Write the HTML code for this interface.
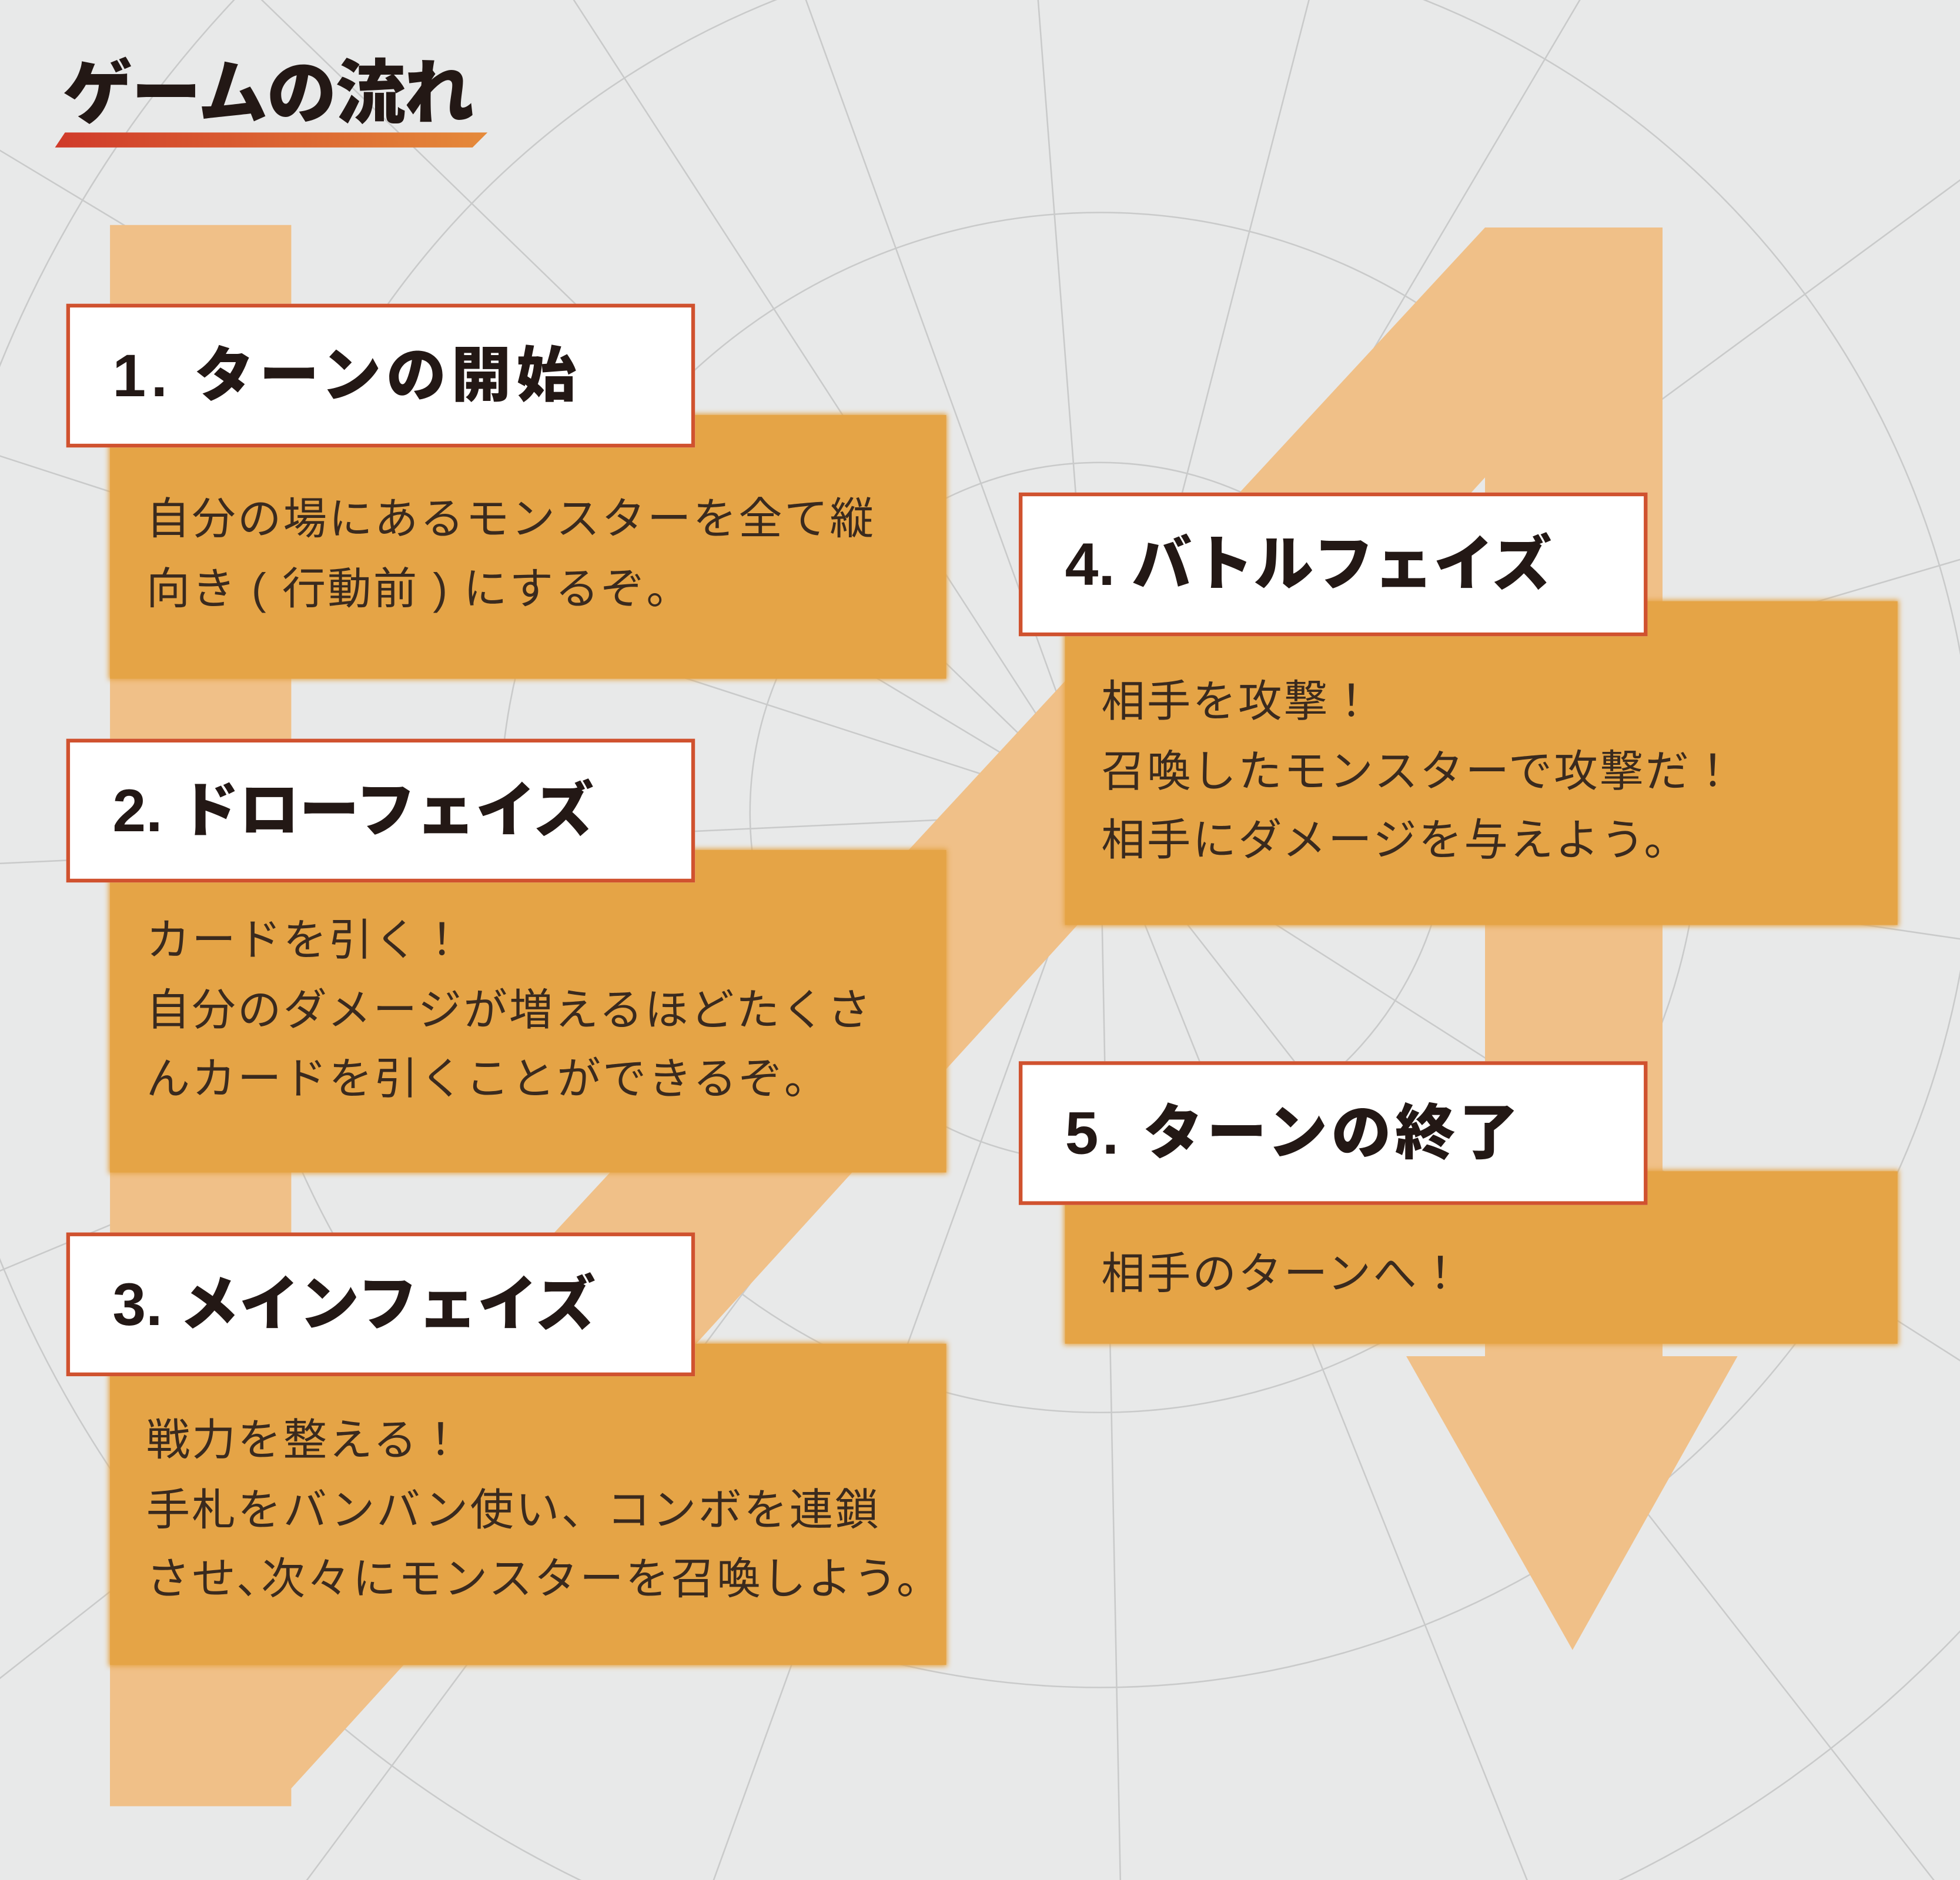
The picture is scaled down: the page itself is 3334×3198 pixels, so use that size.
<!DOCTYPE html>
<html><head><meta charset="utf-8"><style>
html,body{margin:0;padding:0;overflow:hidden;width:3334px;height:3198px;}
body{background:#e8e9e9;position:relative;}
#w{position:absolute;left:0;top:0;width:1568px;height:1504px;overflow:hidden;transform:scale(2.1263);transform-origin:0 0;font-family:"Liberation Sans","Noto Sans CJK JP",sans-serif;}
.h{position:absolute;width:503px;height:115px;background:#fff;border:3px solid #d0522f;box-sizing:border-box;font-weight:900;font-size:48px;color:#231815;letter-spacing:2px;line-height:112px;padding-left:34px;white-space:nowrap;}
.b{position:absolute;background:#e5a446;box-shadow:0 0 4px 1px #e5a446;font-size:35px;color:#3a2a1e;letter-spacing:1.5px;line-height:55.5px;padding-left:29px;box-sizing:border-box;white-space:nowrap;}
</style></head><body><div id="w">
<svg width="1568" height="1504" style="position:absolute;left:0;top:0;overflow:hidden">
<g stroke="#c9caca" stroke-width="1.2" fill="none">
<line x1="880" y1="650" x2="-100" y2="-300"/><line x1="880" y1="650" x2="200" y2="-400"/><line x1="880" y1="650" x2="500" y2="-400"/><line x1="880" y1="650" x2="800" y2="-400"/><line x1="880" y1="650" x2="1150" y2="-400"/><line x1="880" y1="650" x2="1500" y2="-400"/><line x1="880" y1="650" x2="1900" y2="-100"/><line x1="880" y1="650" x2="1900" y2="350"/><line x1="880" y1="650" x2="1900" y2="800"/><line x1="880" y1="650" x2="1900" y2="1300"/><line x1="880" y1="650" x2="1700" y2="1700"/><line x1="880" y1="650" x2="1300" y2="1700"/><line x1="880" y1="650" x2="900" y2="1700"/><line x1="880" y1="650" x2="500" y2="1700"/><line x1="880" y1="650" x2="100" y2="1700"/><line x1="880" y1="650" x2="-200" y2="1500"/><line x1="880" y1="650" x2="-200" y2="1100"/><line x1="880" y1="650" x2="-200" y2="700"/><line x1="880" y1="650" x2="-200" y2="300"/><line x1="880" y1="650" x2="-200" y2="0"/>
<circle cx="880" cy="650" r="280"/><circle cx="880" cy="650" r="480"/><circle cx="880" cy="650" r="700"/><circle cx="880" cy="650" r="950"/><circle cx="880" cy="650" r="1250"/>
</g>
<g fill="#f0c088">
<rect x="88" y="180" width="145" height="1265"/>
<polygon points="1188,182 1330,182 1330,226 220,1445 88,1445 88,1370"/>
<rect x="1188" y="182" width="142" height="903"/>
<polygon points="1125,1085 1390,1085 1258,1320"/>
</g>
<defs><linearGradient id="g" x1="0" x2="1"><stop offset="0" stop-color="#d03a2a"/><stop offset="1" stop-color="#e58a3a"/></linearGradient></defs>
<polygon points="52,106 390,106 378,118 44,118" fill="url(#g)"/>
</svg>
<div style="position:absolute;left:50px;top:42px;font-size:56px;font-weight:900;color:#231815;letter-spacing:-1px;line-height:66px">ゲームの流れ</div>
<div class="b" style="left:88px;top:332px;width:669px;height:211px;padding-top:56px">自分の場にあるモンスターを全て縦<br>向き ( 行動前 ) にするぞ。</div>
<div class="h" style="left:53px;top:243px;letter-spacing:4px">1. ターンの開始</div>
<div class="b" style="left:88px;top:680px;width:669px;height:258px;padding-top:45px">カードを引く！<br>自分のダメージが増えるほどたくさ<br>んカードを引くことができるぞ。</div>
<div class="h" style="left:53px;top:591px;letter-spacing:0px">2. ドローフェイズ</div>
<div class="b" style="left:88px;top:1075px;width:669px;height:257px;padding-top:50px">戦力を整える！<br>手札をバンバン使い、コンボを連鎖<br>させ､次々にモンスターを召喚しよう。</div>
<div class="h" style="left:53px;top:986px;letter-spacing:0px">3. メインフェイズ</div>
<div class="b" style="left:852px;top:481px;width:666px;height:259px;padding-top:53px">相手を攻撃！<br>召喚したモンスターで攻撃だ！<br>相手にダメージを与えよう。</div>
<div class="h" style="left:815px;top:394px;letter-spacing:0px">4. バトルフェイズ</div>
<div class="b" style="left:852px;top:937px;width:666px;height:138px;padding-top:55px">相手のターンへ！</div>
<div class="h" style="left:815px;top:849px;letter-spacing:3px">5. ターンの終了</div>
</div></body></html>
